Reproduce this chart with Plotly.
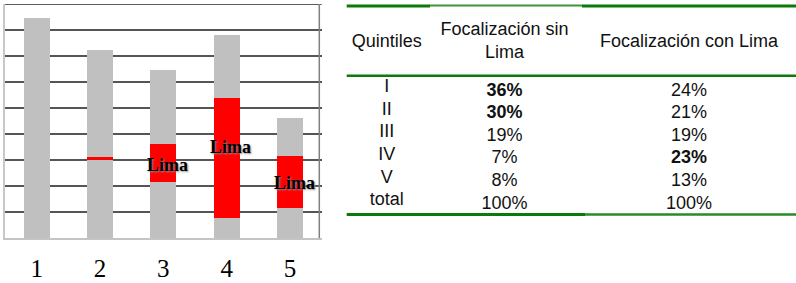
import plotly.graph_objects as go

# ---------------- data: bar chart ----------------
categories = ["1", "2", "3", "4", "5"]
gray_base = [8.47, 3.04, 2.17, 0.77, 1.18]
lima = [0.0, 0.065, 1.45, 4.62, 1.985]
gray_top = [0.0, 4.125, 2.84, 2.42, 1.47]
lima_label_y = [None, None, 2.80, 3.52, 2.11]

# ---------------- data: table ----------------
header = ["Quintiles", "Focalización sin<br>Lima", "Focalización con Lima"]
quintiles = ["I", "II", "III", "IV", "V", "total"]
sin_lima = [36, 30, 19, 7, 8, 100]
con_lima = [24, 21, 19, 23, 13, 100]
sin_bold = [True, True, False, False, False, False]
con_bold = [False, False, False, True, False, False]

# ---------------- layout constants ----------------
W, H = 796, 283
GRAY = "#c0c0c0"
RED = "#ff0000"
GREEN = "#0a7a0a"
COL_X = [386.7, 504.5, 689.0]      # column centres (x2 units = px)
HEADER_ROW = -2.15                  # header row position (y2 row units)
COL1_SHIFT = -0.16                  # first column sits slightly higher

fig = go.Figure()

for vals, col in [(gray_base, GRAY), (lima, RED), (gray_top, GRAY)]:
    fig.add_trace(go.Bar(x=categories, y=vals, marker=dict(color=col, line=dict(width=0)),
                         xaxis="x", yaxis="y", hoverinfo="skip"))

for i, ly in enumerate(lima_label_y):
    if ly is None:
        continue
    fig.add_annotation(x=i, y=ly, xref="x", yref="y", text="Lima", showarrow=False,
                       xshift=4,
                       font=dict(family="Liberation Serif", size=18, color="black",
                                 weight="bold", shadow="1px 1px 2px #909090"))

# table text
def fmt(v, b):
    s = f"{v}%"
    return f"<b>{s}</b>" if b else s

rows = list(range(len(quintiles)))
tfont = dict(family="Liberation Sans, Arial", size=18, color="#111111")
fig.add_trace(go.Scatter(x=[COL_X[0]] * len(rows), y=[r + COL1_SHIFT for r in rows],
                         text=quintiles, mode="text", textposition="middle center",
                         textfont=tfont, xaxis="x2", yaxis="y2", hoverinfo="skip"))
fig.add_trace(go.Scatter(x=[COL_X[1]] * len(rows), y=rows,
                         text=[fmt(v, b) for v, b in zip(sin_lima, sin_bold)],
                         mode="text", textposition="middle center",
                         textfont=tfont, xaxis="x2", yaxis="y2", hoverinfo="skip"))
fig.add_trace(go.Scatter(x=[COL_X[2]] * len(rows), y=rows,
                         text=[fmt(v, b) for v, b in zip(con_lima, con_bold)],
                         mode="text", textposition="middle center",
                         textfont=tfont, xaxis="x2", yaxis="y2", hoverinfo="skip"))
fig.add_trace(go.Scatter(x=COL_X, y=[HEADER_ROW] * 3, text=header, mode="text",
                         textposition="middle center", textfont=tfont,
                         xaxis="x2", yaxis="y2", hoverinfo="skip"))

shapes = []
# table rules (x2 px units, y2 row units)
def rule(x0, x1, y, w, color=GREEN):
    shapes.append(dict(type="line", xref="x2", yref="y2", x0=x0, x1=x1, y0=y, y1=y,
                       line=dict(color=color, width=w)))

rule(346.7, 430, -3.75, 3)
rule(430, 582, -3.77, 2, "#3c943c")
rule(582, 796, -3.75, 3)
rule(346.7, 796, -0.675, 2.5)
rule(346.7, 585, 5.45, 3)
rule(585, 796, 5.45, 2.5, "#2a8a2a")

# chart frame: top line and right line
shapes.append(dict(type="line", xref="x domain", yref="y", x0=0, x1=1, y0=9, y1=9,
                   line=dict(color="#5c5c5c", width=2)))
shapes.append(dict(type="line", xref="paper", yref="y", x0=319.3 / W, x1=319.3 / W,
                   y0=0, y1=9, line=dict(color="#808080", width=1.5)))

fig.update_layout(
    width=W, height=H, margin=dict(l=0, r=0, t=0, b=0),
    paper_bgcolor="white", plot_bgcolor="rgba(0,0,0,0)",
    barmode="stack", bargap=0.59, showlegend=False,
    shapes=shapes,
    xaxis=dict(domain=[5 / W, 321.7 / W], range=[-0.5, 4.5], type="category",
               showgrid=False, showline=True, linecolor="#c4c4c4", linewidth=2,
               ticks="outside", ticklen=7, tickcolor="rgba(0,0,0,0)",
               tickfont=dict(family="Liberation Serif", size=25, color="black"),
               automargin=False, fixedrange=True),
    yaxis=dict(domain=[(H - 238.3) / H, (H - 4) / H], range=[0, 9], dtick=1,
               showgrid=True, gridcolor="#555555", gridwidth=1.5,
               showticklabels=False, ticks="", zeroline=False,
               showline=True, linecolor="#c8c8c8", linewidth=1.5,
               automargin=False, fixedrange=True),
    xaxis2=dict(domain=[0, 1], range=[0, W], visible=False, anchor="y2"),
    yaxis2=dict(domain=[0, 1], range=[(H - 91) / 22.66, (0 - 91) / 22.66],
                visible=False, anchor="x2"),
)

fig.write_html("out.html", config={"displayModeBar": False},
               post_script="document.body.style.margin='0px';")
